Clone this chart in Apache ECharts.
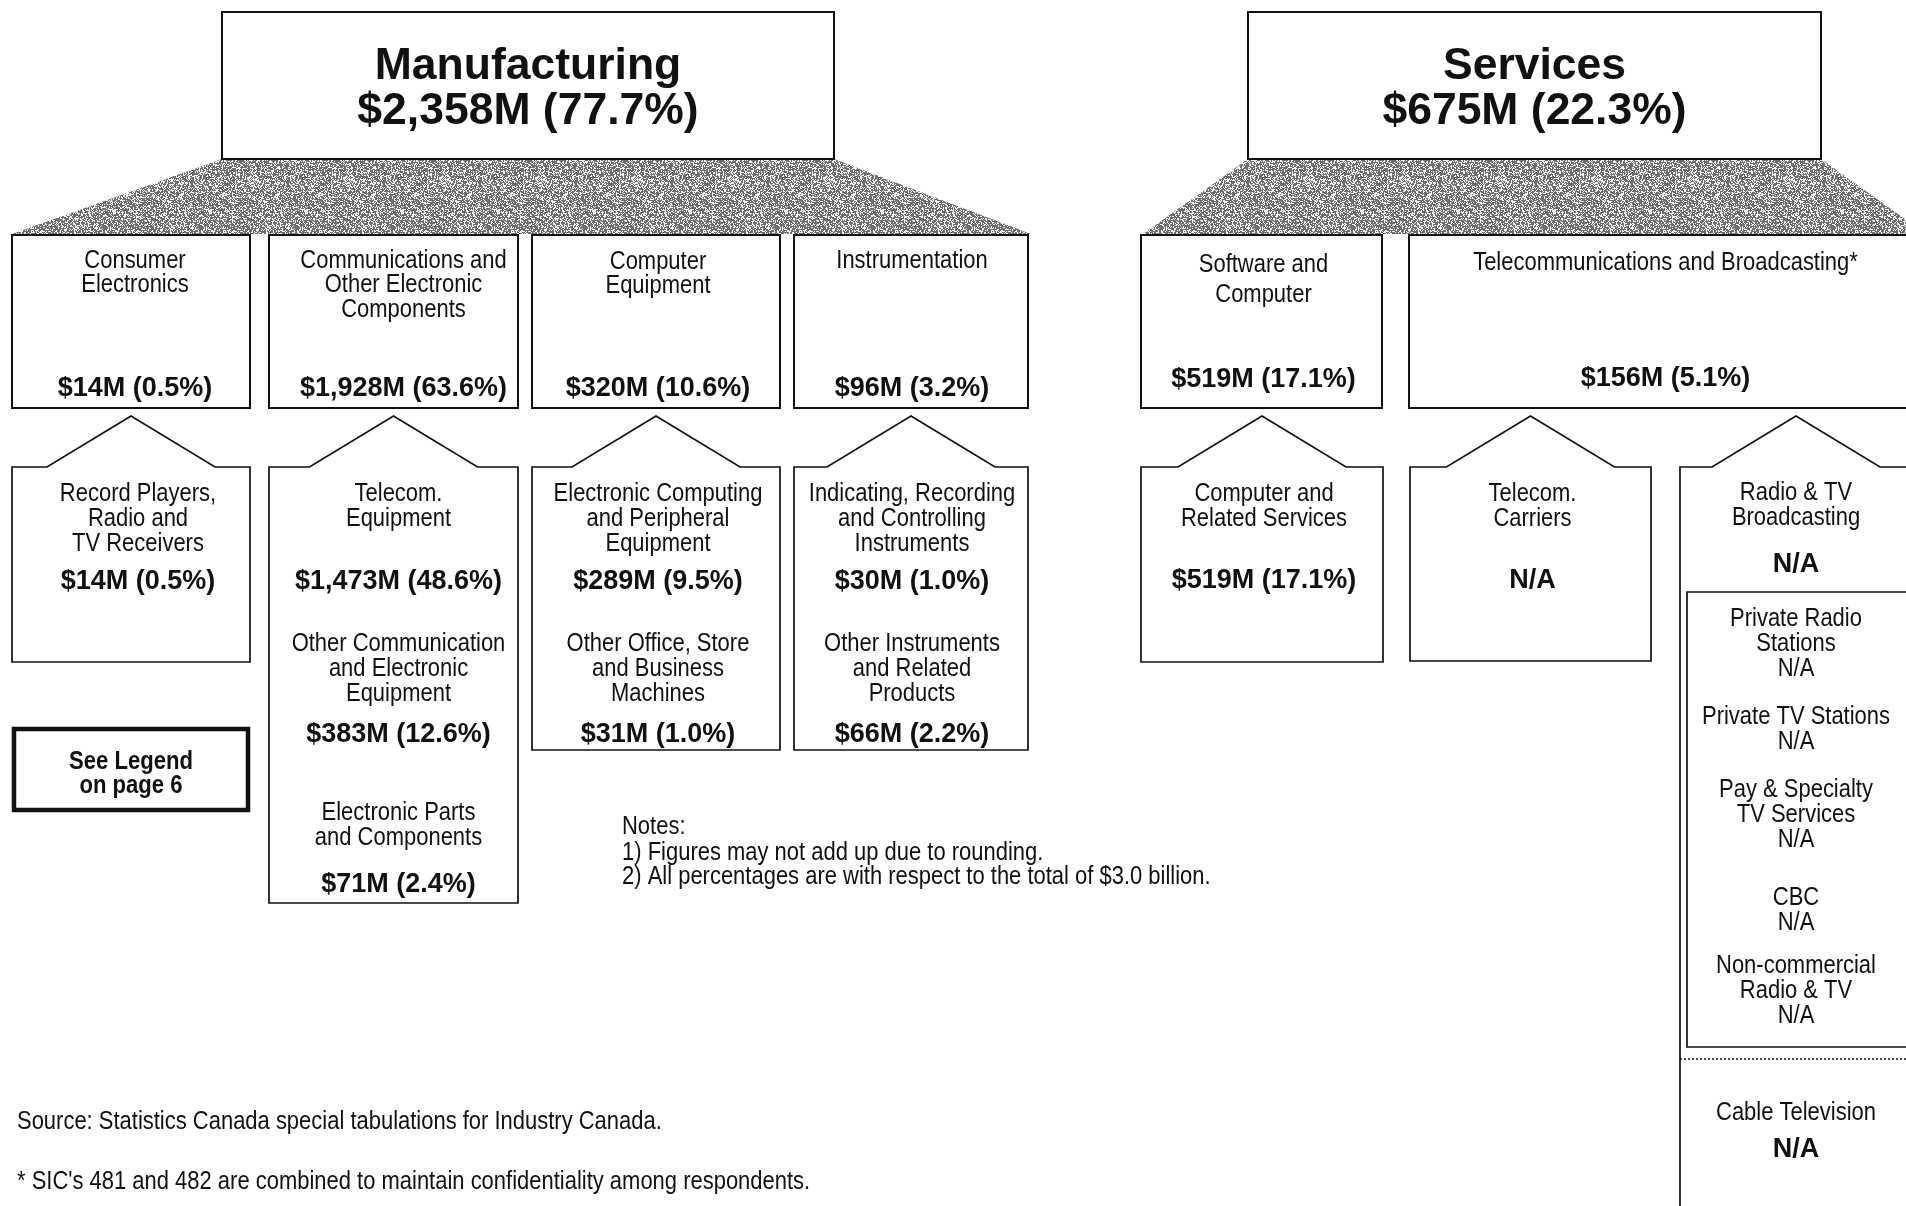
<!DOCTYPE html>
<html><head><meta charset="utf-8">
<script src="https://cdn.jsdelivr.net/npm/echarts@6/dist/echarts.min.js"></script>
<style>html,body{margin:0;padding:0;background:#fff}#c{width:1906px;height:1206px}</style>
</head><body><div id="c"></div>
<script>
// ---------------- DATA ----------------
const sectorNames = ['Manufacturing', 'Services'];
const sectorValuesM = [2358, 675];
const sectorShares = [77.7, 22.3];

const groupNames = [
  ['Consumer', 'Electronics'],
  ['Communications and', 'Other Electronic', 'Components'],
  ['Computer', 'Equipment'],
  ['Instrumentation'],
  ['Software and', 'Computer'],
  ['Telecommunications and Broadcasting*']
];
const groupValuesM = [14, 1928, 320, 96, 519, 156];
const groupShares = [0.5, 63.6, 10.6, 3.2, 17.1, 5.1];

const industryNames = [
  ['Record Players,', 'Radio and', 'TV Receivers'],
  ['Telecom.', 'Equipment'],
  ['Other Communication', 'and Electronic', 'Equipment'],
  ['Electronic Parts', 'and Components'],
  ['Electronic Computing', 'and Peripheral', 'Equipment'],
  ['Other Office, Store', 'and Business', 'Machines'],
  ['Indicating, Recording', 'and Controlling', 'Instruments'],
  ['Other Instruments', 'and Related', 'Products'],
  ['Computer and', 'Related Services'],
  ['Telecom.', 'Carriers'],
  ['Radio & TV', 'Broadcasting'],
  ['Cable Television']
];
const industryValuesM = [14, 1473, 383, 71, 289, 31, 30, 66, 519, null, null, null];
const industryShares = [0.5, 48.6, 12.6, 2.4, 9.5, 1.0, 1.0, 2.2, 17.1, null, null, null];

const subIndustryNames = [
  ['Private Radio', 'Stations'],
  ['Private TV Stations'],
  ['Pay & Specialty', 'TV Services'],
  ['CBC'],
  ['Non-commercial', 'Radio & TV']
];
const subIndustryValuesM = [null, null, null, null, null];

const legendNote = ['See Legend', 'on page 6'];
const notesLines = ['Notes:', '1) Figures may not add up due to rounding.', '2) All percentages are with respect to the total of $3.0 billion.'];
const footerLines = ['Source: Statistics Canada special tabulations for Industry Canada.', "* SIC's 481 and 482 are combined to maintain confidentiality among respondents."];

// ---------------- LAYOUT ----------------
const sectorBox = [[222, 12, 834, 159], [1248, 12, 1821, 159]];
const sectorLineY = [67, 112];
const trapBottomX = [[12, 1031], [1143, 1926]];
const trapY = [159, 234];
const groupBoxX = [[12, 250], [269, 518], [532, 780], [794, 1028], [1141, 1382], [1409, 1922]];
const groupTextDX = [4, 10, 2, 1, 2, 0];
const groupBoxY = [235, 408];
const groupNameY = [[259, 283], [259, 283, 308], [260, 284], [259], [263, 293], [261]];
const groupValY = [387, 387, 387, 387, 378, 377];
const houseX = [[12, 250], [269, 518], [532, 780], [794, 1028], [1141, 1383], [1410, 1651], [1680, 1912]];
const houseTextDX = [7, 5, 2, 1, 2, 2, 0];
const houseBottom = [662, 903, 750, 750, 662, 661, 1230];
const housePeakY = 416, houseShoulderY = 467, roofHalf = 84;
const indLayout = [
  [0, 492, 580], [1, 492, 580], [1, 642, 733], [1, 811, 883],
  [2, 492, 580], [2, 642, 733], [3, 492, 580], [3, 642, 733],
  [4, 492, 579], [5, 492, 579], [6, 491, 563], [6, 1111, 1148]
];
const subBox = [1687, 592, 1912, 1047];
const subStartY = [617, 715, 788, 896, 964];
const dottedY = 1059;
const legendBox = [12, 727, 250, 812];
const legendY = [760, 784];
const notesX = 622, notesY = [825, 851, 875];
const footerX = 17, footerY = [1120, 1180];
const LINE = 25;
const TEXT_DY = 2;

// ---------------- FONTS ----------------
const REG = '26px "Liberation Sans", Arial, sans-serif';
const REG_SX = 0.845;
const BOLD = 'bold 27px "Liberation Sans", Arial, sans-serif';
const BOLD_N = 'bold 26px "Liberation Sans", Arial, sans-serif';
const BOLD_N_SX = 0.85;
const TITLE = 'bold 44.5px "Liberation Sans", Arial, sans-serif';

function fmtVal(m, s) {
  if (m == null) return 'N/A';
  return '$' + m.toLocaleString('en-US') + 'M (' + s.toFixed(1) + '%)';
}

// stipple pattern for the connector trapezoids (deterministic hash texture)
function makePattern() {
  const n = 96, c = document.createElement('canvas'); c.width = c.height = n;
  const ctx = c.getContext('2d'); const img = ctx.createImageData(n, n);
  for (let i = 0; i < n * n; i++) {
    let h = Math.imul(i + 12345, 2654435761) >>> 0;
    h ^= h >>> 13; h = Math.imul(h, 0x5bd1e995) >>> 0; h ^= h >>> 15;
    const v = (h % 1000) < 220 ? 110 : 244;
    img.data[i * 4] = v; img.data[i * 4 + 1] = v; img.data[i * 4 + 2] = v; img.data[i * 4 + 3] = 255;
  }
  ctx.putImageData(img, 0, 0);
  return c;
}
const pattern = { image: makePattern(), repeat: 'repeat' };

// ---------------- BUILD ----------------
const els = [];
let z = 1;
function txt(t, x, y, font, align, sx) {
  els.push({ type: 'text', silent: true, z2: 100 + (z++), x: x, y: y + TEXT_DY, scaleX: sx || 1,
    style: { text: t, x: 0, y: 0, fill: '#111', font: font,
      textAlign: align || 'center', textVerticalAlign: 'middle', align: align || 'center', verticalAlign: 'middle' } });
}
function poly(points, lw, fill, dash) {
  els.push({ type: 'polygon', silent: true, z2: z++, shape: { points: points },
    style: { fill: fill || '#fff', stroke: lw ? '#111' : null, lineWidth: lw || 0, lineDash: dash || null } });
}
function rect(x0, y0, x1, y1, lw) {
  poly([[x0, y0], [x1, y0], [x1, y1], [x0, y1]], lw, '#fff');
}

// trapezoids
for (let s = 0; s < 2; s++) {
  const b = sectorBox[s];
  poly([[b[0], trapY[0]], [b[2], trapY[0]], [trapBottomX[s][1], trapY[1]], [trapBottomX[s][0], trapY[1]]], 0, pattern);
}
// sector boxes
for (let s = 0; s < 2; s++) {
  const b = sectorBox[s];
  rect(b[0], b[1], b[2], b[3], 2);
  const cx = (b[0] + b[2]) / 2;
  txt(sectorNames[s], cx, sectorLineY[0] - TEXT_DY, TITLE);
  txt(fmtVal(sectorValuesM[s], sectorShares[s]), cx, sectorLineY[1] - TEXT_DY, TITLE);
}
// group boxes
for (let g = 0; g < groupNames.length; g++) {
  const bx = groupBoxX[g];
  rect(bx[0], groupBoxY[0], bx[1], groupBoxY[1], 2);
  const cx = (bx[0] + bx[1]) / 2 + groupTextDX[g];
  groupNames[g].forEach((ln, i) => txt(ln, cx, groupNameY[g][i], REG, 'center', REG_SX));
  txt(fmtVal(groupValuesM[g], groupShares[g]), cx, groupValY[g], BOLD);
}
// houses
for (let h = 0; h < houseX.length; h++) {
  const [x0, x1] = houseX[h]; const cx = (x0 + x1) / 2;
  poly([[x0, houseShoulderY], [cx - roofHalf, houseShoulderY], [cx, housePeakY], [cx + roofHalf, houseShoulderY],
        [x1, houseShoulderY], [x1, houseBottom[h]], [x0, houseBottom[h]]], 1.7, '#fff');
}
// industries
for (let k = 0; k < industryNames.length; k++) {
  const [h, y0, vy] = indLayout[k];
  const cx = (houseX[h][0] + houseX[h][1]) / 2 + houseTextDX[h];
  industryNames[k].forEach((ln, i) => txt(ln, cx, y0 + i * LINE, REG, 'center', REG_SX));
  txt(fmtVal(industryValuesM[k], industryShares[k]), cx, vy, BOLD);
}
// sub-industries box
rect(subBox[0], subBox[1], subBox[2], subBox[3], 1.7);
const scx = (houseX[6][0] + houseX[6][1]) / 2;
for (let k = 0; k < subIndustryNames.length; k++) {
  const lines = subIndustryNames[k].concat([fmtVal(subIndustryValuesM[k], null)]);
  lines.forEach((ln, i) => txt(ln, scx, subStartY[k] + i * LINE, REG, 'center', REG_SX));
}
els.push({ type: 'line', silent: true, z2: z++, shape: { x1: houseX[6][0], y1: dottedY, x2: 1912, y2: dottedY },
  style: { stroke: '#111', lineWidth: 1.3, lineDash: [2, 2] } });

// legend note box
els.push({ type: 'rect', silent: true, z2: z++, shape: { x: legendBox[0] + 2, y: legendBox[1] + 2, width: legendBox[2] - legendBox[0] - 4, height: legendBox[3] - legendBox[1] - 4 },
  style: { fill: '#fff', stroke: '#111', lineWidth: 4.5 } });
legendNote.forEach((ln, i) => txt(ln, (legendBox[0] + legendBox[2]) / 2, legendY[i], BOLD_N, 'center', BOLD_N_SX));

// notes & footer
notesLines.forEach((ln, i) => txt(ln, notesX, notesY[i], REG, 'left', REG_SX));
footerLines.forEach((ln, i) => txt(ln, footerX, footerY[i], REG, 'left', REG_SX));

const chart = echarts.init(document.getElementById('c'), null, { renderer: 'canvas', width: 1906, height: 1206 });
chart.setOption({ backgroundColor: '#fff', animation: false, graphic: { elements: els } });
</script>
</body></html>
